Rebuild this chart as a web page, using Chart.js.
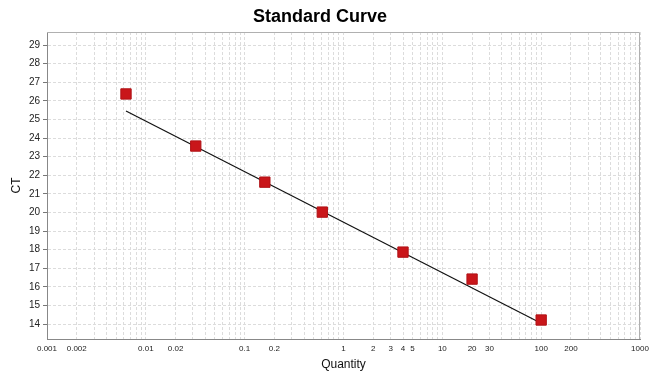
<!DOCTYPE html>
<html>
<head>
<meta charset="utf-8">
<title>Standard Curve</title>
<script src="https://cdn.jsdelivr.net/npm/chart.js@4/dist/chart.umd.min.js"></script>
<style>
  html, body { margin: 0; padding: 0; background: #fff; }
  canvas { display: block; }
</style>
</head>
<body>
<canvas id="curveChart" width="649" height="381"></canvas>
<script>
// measured standards (quantity vs Ct)
var quantities = [0.0063, 0.032, 0.16, 0.61, 4.0, 20, 100];
var ctValues = [26.37, 23.57, 21.63, 20.02, 17.87, 16.42, 14.22];

// regression line end points
var fitX = [0.0063, 100];
var fitY = [25.45, 14.05];

// axis ticks
var decades = [0.001, 0.01, 0.1, 1, 10, 100];
var xLabels = [0.001, 0.002, 0.01, 0.02, 0.1, 0.2, 1, 2, 3, 4, 5, 10, 20, 30, 100, 200, 1000];
var yTicks = [14, 15, 16, 17, 18, 19, 20, 21, 22, 23, 24, 25, 26, 27, 28, 29];

function near(a, b) {
  return Math.abs(a - b) / b < 1e-6;
}

var xTickValues = [];
decades.forEach(function (d) {
  for (var m = 1; m <= 9; m++) xTickValues.push(+(d * m).toPrecision(6));
});
xTickValues.push(1000);

// grey frame round the plot area
var frame = {
  id: 'frame',
  afterDraw: function (chart) {
    var a = chart.chartArea, c = chart.ctx;
    c.save();
    c.strokeStyle = '#b0b0b0';
    c.lineWidth = 1;
    c.beginPath();
    c.moveTo(a.left, a.top + 0.5);
    c.lineTo(a.right - 0.5, a.top + 0.5);
    c.lineTo(a.right - 0.5, a.bottom);
    c.stroke();
    c.restore();
  }
};

var ctx = document.getElementById('curveChart').getContext('2d');
var curveChart = new Chart(ctx, {
  type: 'scatter',
  data: {
    datasets: [{
      label: 'Fit',
      data: fitX.map(function (x, i) { return { x: x, y: fitY[i] }; }),
      showLine: true,
      borderColor: '#111',
      borderWidth: 1.2,
      pointRadius: 0,
      order: 2
    }, {
      label: 'Standards',
      data: quantities.map(function (x, i) { return { x: x, y: ctValues[i] }; }),
      pointStyle: 'rect',
      pointRadius: 7.3,
      backgroundColor: '#c9161a',
      borderColor: '#b01216',
      borderWidth: 1,
      order: 1
    }]
  },
  options: {
    responsive: false,
    animation: false,
    layout: { padding: { top: 0, right: 9, bottom: 0, left: 0 } },
    plugins: {
      legend: { display: false },
      tooltip: { enabled: false },
      title: {
        display: true,
        text: 'Standard Curve',
        color: '#000',
        font: { family: 'Liberation Sans, Arial', size: 18, weight: 'bold' },
        padding: { top: 6, bottom: 4.4 }
      }
    },
    scales: {
      x: {
        type: 'logarithmic',
        min: 0.001,
        max: 1000,
        afterBuildTicks: function (scale) {
          scale.ticks = xTickValues.map(function (v) { return { value: v }; });
        },
        afterFit: function (scale) {
          scale.height = 42;
          scale.paddingLeft = 0;
          scale.paddingRight = 0;
        },
        ticks: {
          autoSkip: false,
          maxRotation: 0,
          padding: 5,
          color: '#222',
          font: { family: 'Liberation Sans, Arial', size: 8 },
          callback: function (value) {
            for (var i = 0; i < xLabels.length; i++) {
              if (near(value, xLabels[i])) return String(xLabels[i]);
            }
            return '';
          }
        },
        grid: {
          color: '#dcdcdc',
          tickLength: 0,
          drawTicks: false
        },
        border: { display: true, color: '#888', width: 1, dash: [3, 2] },
        title: {
          display: true,
          text: 'Quantity',
          color: '#111',
          font: { family: 'Liberation Sans, Arial', size: 12 },
          padding: { top: 2, bottom: 9 }
        }
      },
      y: {
        min: 13.2,
        max: 29.7,
        afterBuildTicks: function (scale) {
          scale.ticks = yTicks.map(function (v) { return { value: v }; });
        },
        afterFit: function (scale) {
          scale.width = 47;
        },
        ticks: {
          padding: 3,
          color: '#222',
          font: { family: 'Liberation Sans, Arial', size: 10 }
        },
        grid: {
          color: '#dcdcdc',
          tickColor: '#777',
          tickLength: 4
        },
        border: { display: true, color: '#888', width: 1, dash: [3, 2] },
        title: {
          display: true,
          text: 'CT',
          color: '#111',
          font: { family: 'Liberation Sans, Arial', size: 12 },
          padding: { top: 9, bottom: 0 }
        }
      }
    }
  },
  plugins: [frame]
});
</script>
</body>
</html>
